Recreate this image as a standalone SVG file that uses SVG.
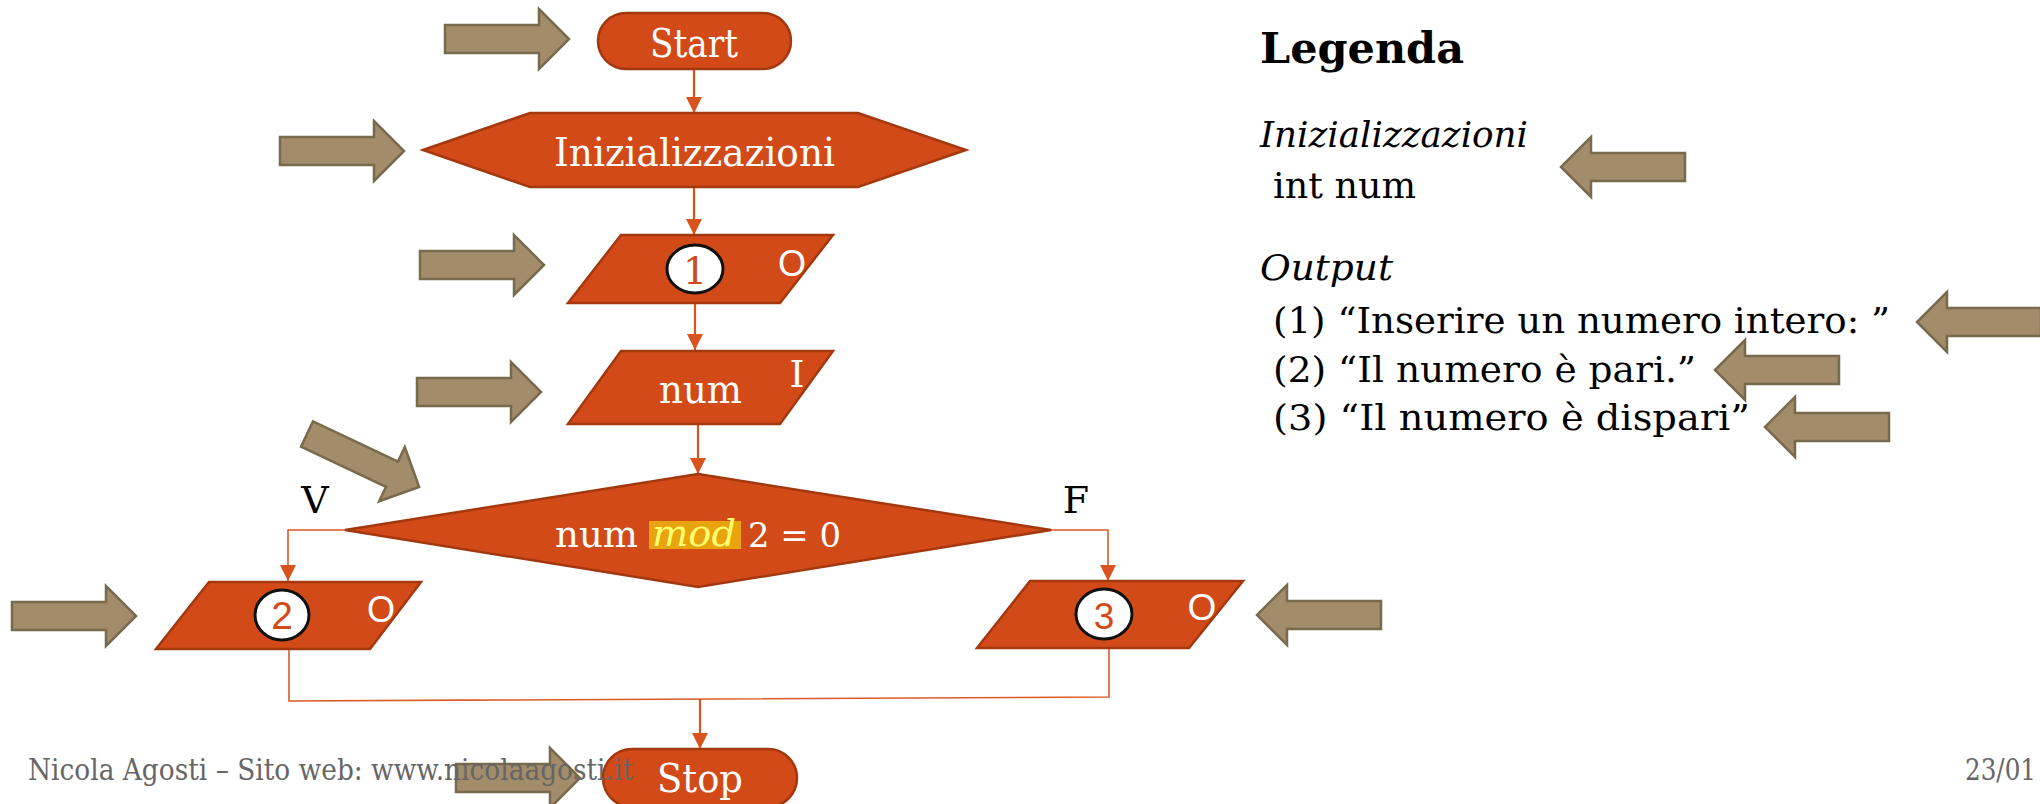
<svg xmlns="http://www.w3.org/2000/svg" xmlns:xlink="http://www.w3.org/1999/xlink" width="2040" height="804" viewBox="0 0 2040 804">
  <style>
    .shape { fill: #D24A18; stroke: #A3380F; stroke-width: 2.5; }
    .wire { fill: none; stroke: #D9531F; stroke-width: 2.2; }
    .wire-thin { fill: none; stroke: #DC5A27; stroke-width: 1.6; }
    .fat { fill: #A28C69; stroke: #786A4D; stroke-width: 2.5; stroke-linejoin: miter; }
    .bubble { fill: #FFFFFF; stroke: #111111; stroke-width: 3; }
    .lbl { font-family: "DejaVu Serif", "Liberation Serif", serif; fill: #FFFFFF; }
    .tag { font-family: "Liberation Sans", Arial, sans-serif; fill: #FFFFFF; }
    .num { font-family: "Liberation Sans", Arial, sans-serif; fill: #D24A18; }
    .blk { font-family: "DejaVu Serif", "Liberation Serif", serif; fill: #000000; }
    .foot { font-family: "DejaVu Serif", "Liberation Serif", serif; fill: #666666; }
  </style>
  <defs>
    <marker id="tip" viewBox="0 0 16 16" markerUnits="userSpaceOnUse" markerWidth="16" markerHeight="16" refX="16" refY="8" orient="auto">
      <path d="M0,0 L16,8 L0,16 Z" fill="#D9531F"/>
    </marker>
    <!-- block arrow pointing right, tail at origin -->
    <path id="fat-arrow" class="fat" d="M0,-14 H94 V-30 L124,0 L94,30 V14 H0 Z"/>
  </defs>

  <rect width="2040" height="804" fill="#FFFFFF"/>

  <!-- connectors -->
  <g id="connectors">
    <line class="wire" x1="694" y1="69" x2="694" y2="113" marker-end="url(#tip)"/>
    <line class="wire" x1="694" y1="187" x2="694" y2="235" marker-end="url(#tip)"/>
    <line class="wire" x1="695" y1="303" x2="695" y2="350" marker-end="url(#tip)"/>
    <line class="wire" x1="698" y1="424" x2="698" y2="474" marker-end="url(#tip)"/>
    <polyline class="wire-thin" points="345,530 288,530 288,581" marker-end="url(#tip)"/>
    <polyline class="wire-thin" points="1051,530 1108,530 1108,581" marker-end="url(#tip)"/>
    <polyline class="wire-thin" points="289,649 289,701 1109,697 1109,648"/>
    <line class="wire" x1="700" y1="699" x2="700" y2="749" marker-end="url(#tip)"/>
  </g>

  <!-- flowchart nodes -->
  <g id="start">
    <rect class="shape" x="598" y="13" width="193" height="56" rx="28"/>
    <text class="lbl" x="650" y="57" font-size="40" textLength="88" lengthAdjust="spacingAndGlyphs">Start</text>
  </g>

  <g id="init">
    <polygon class="shape" points="423,150 530,113 858,113 966,150 858,187 530,187"/>
    <text class="lbl" x="554" y="166" font-size="39" textLength="281" lengthAdjust="spacingAndGlyphs">Inizializzazioni</text>
  </g>

  <g id="out1">
    <polygon class="shape" points="621,235 833,235 780,303 568,303"/>
    <ellipse class="bubble" cx="695" cy="269" rx="28" ry="24"/>
    <text class="lbl" x="695" y="284" font-size="38" text-anchor="middle" style="fill:#D24A18">1</text>
    <text class="tag" x="792" y="276" font-size="36" text-anchor="middle">O</text>
  </g>

  <g id="input-num">
    <polygon class="shape" points="621,351 833,351 780,424 568,424"/>
    <text class="lbl" x="659" y="403" font-size="40" textLength="83" lengthAdjust="spacingAndGlyphs">num</text>
    <text class="lbl" x="797" y="387" font-size="38" text-anchor="middle">I</text>
  </g>

  <g id="test">
    <polygon class="shape" points="698,474 1051,530 698,587 345,530"/>
    <rect x="649" y="521" width="92" height="28" fill="#E9A30F"/>
    <text class="lbl" x="555" y="547" font-size="37" textLength="83" lengthAdjust="spacingAndGlyphs">num</text>
    <text class="lbl" x="652" y="546" font-size="37" font-style="italic" textLength="84" lengthAdjust="spacingAndGlyphs" style="fill:#FFFF6E">mod</text>
    <text class="lbl" x="748" y="547" font-size="34" textLength="93" lengthAdjust="spacingAndGlyphs">2 = 0</text>
  </g>

  <g id="label-v">
    <text class="blk" x="315" y="513" font-size="38" text-anchor="middle">V</text>
  </g>
  <g id="label-f">
    <text class="blk" x="1076" y="513" font-size="38" text-anchor="middle">F</text>
  </g>

  <g id="out2">
    <polygon class="shape" points="209,582 421,582 370,649 156,649"/>
    <ellipse class="bubble" cx="282" cy="615" rx="27" ry="25"/>
    <text class="num" x="282" y="629" font-size="39" text-anchor="middle">2</text>
    <text class="tag" x="381" y="622" font-size="36" text-anchor="middle">O</text>
  </g>

  <g id="out3">
    <polygon class="shape" points="1030,581 1243,581 1189,648 977,648"/>
    <ellipse class="bubble" cx="1104" cy="614" rx="28" ry="25"/>
    <text class="num" x="1104" y="629" font-size="37" text-anchor="middle">3</text>
    <text class="tag" x="1202" y="620" font-size="37" text-anchor="middle">O</text>
  </g>

  <g id="stop">
    <rect class="shape" x="603" y="749" width="194" height="58" rx="29"/>
    <text class="lbl" x="657" y="792" font-size="40" textLength="86" lengthAdjust="spacingAndGlyphs">Stop</text>
  </g>

  <!-- pointer arrows -->
  <g id="pointers">
    <use xlink:href="#fat-arrow" transform="translate(445,39)"/>
    <use xlink:href="#fat-arrow" transform="translate(280,151)"/>
    <use xlink:href="#fat-arrow" transform="translate(420,265)"/>
    <use xlink:href="#fat-arrow" transform="translate(417,392)"/>
    <use xlink:href="#fat-arrow" transform="translate(307,434) rotate(25.3)"/>
    <use xlink:href="#fat-arrow" transform="translate(12,616)"/>
    <use xlink:href="#fat-arrow" transform="translate(1381,615) rotate(180)"/>
    <use xlink:href="#fat-arrow" transform="translate(456,778)"/>
    <use xlink:href="#fat-arrow" transform="translate(1685,167) rotate(180)"/>
    <use xlink:href="#fat-arrow" transform="translate(2041,322) rotate(180)"/>
    <use xlink:href="#fat-arrow" transform="translate(1839,370) rotate(180)"/>
    <use xlink:href="#fat-arrow" transform="translate(1889,427) rotate(180)"/>
  </g>

  <!-- legend -->
  <g id="legend">
    <text class="blk" x="1260" y="63" font-size="42" font-weight="bold" textLength="204" lengthAdjust="spacingAndGlyphs">Legenda</text>
    <text class="blk" x="1260" y="147" font-size="35" font-style="italic" textLength="268" lengthAdjust="spacingAndGlyphs">Inizializzazioni</text>
    <text class="blk" x="1273" y="198" font-size="35" textLength="143" lengthAdjust="spacingAndGlyphs">int num</text>
    <text class="blk" x="1260" y="280" font-size="35" font-style="italic" textLength="133" lengthAdjust="spacingAndGlyphs">Output</text>
    <text class="blk" x="1273" y="333" font-size="35" textLength="617" lengthAdjust="spacingAndGlyphs">(1) “Inserire un numero intero: ”</text>
    <text class="blk" x="1273" y="382" font-size="35" textLength="423" lengthAdjust="spacingAndGlyphs">(2) “Il numero è pari.”</text>
    <text class="blk" x="1273" y="430" font-size="35" textLength="477" lengthAdjust="spacingAndGlyphs">(3) “Il numero è dispari”</text>
  </g>

  <!-- footer -->
  <g id="footer">
    <text class="foot" x="28" y="780" font-size="29" textLength="605" lengthAdjust="spacingAndGlyphs">Nicola Agosti – Sito web: www.nicolaagosti.it</text>
    <text class="foot" x="1965" y="780" font-size="29" textLength="71" lengthAdjust="spacingAndGlyphs">23/01</text>
  </g>
</svg>
